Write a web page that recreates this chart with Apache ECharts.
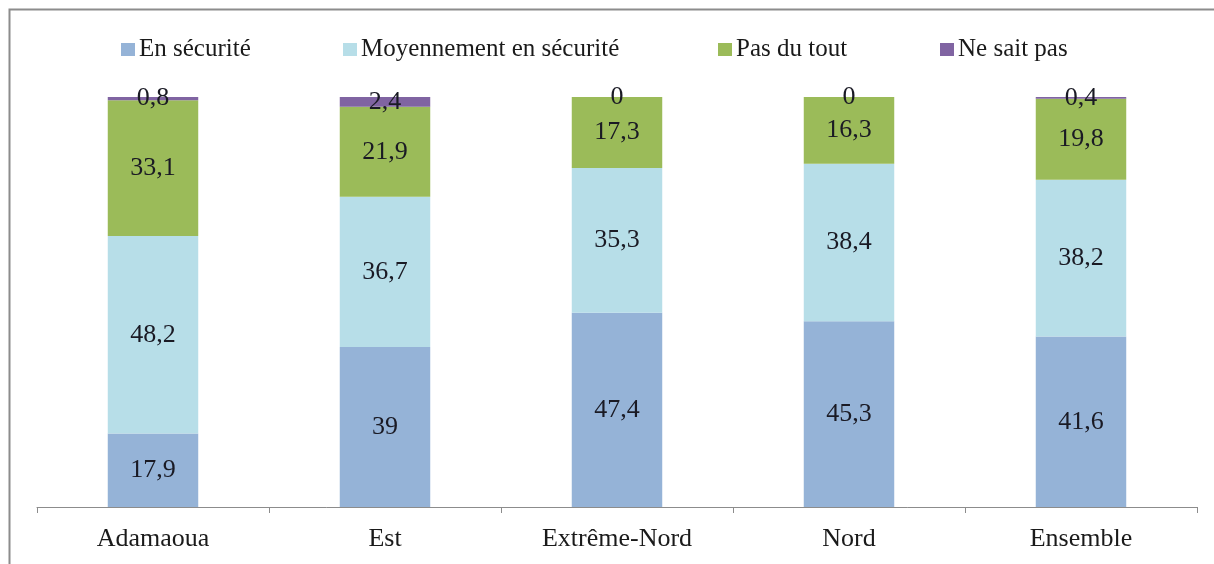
<!DOCTYPE html>
<html>
<head>
<meta charset="utf-8">
<script src="https://cdn.jsdelivr.net/npm/echarts@6/dist/echarts.min.js"></script>
<style>
  html, body { margin: 0; padding: 0; background: #fff; }
  #chart { width: 1214px; height: 564px; }
</style>
</head>
<body>
<div id="chart"></div>
<script>
  // données (%)
  var regions = ['Adamaoua', 'Est', 'Extrême-Nord', 'Nord', 'Ensemble'];
  var enSecurite = [17.9, 39, 47.4, 45.3, 41.6];
  var moyennement = [48.2, 36.7, 35.3, 38.4, 38.2];
  var pasDuTout = [33.1, 21.9, 17.3, 16.3, 19.8];
  var neSaitPas = [0.8, 2.4, 0, 0, 0.4];

  var seriesNames = ['En sécurité', 'Moyennement en sécurité', 'Pas du tout', 'Ne sait pas'];
  var seriesColors = ['#95b3d7', '#b7dee8', '#9bbb59', '#8064a2'];
  var seriesData = [enSecurite, moyennement, pasDuTout, neSaitPas];
  var legendLeft = [121, 343, 718, 940];

  var font = 'Liberation Serif';
  var myChart = echarts.init(document.getElementById('chart'));

  // une légende par série pour caler chaque item
  var legends = seriesNames.map(function (name, i) {
    return {
      data: [name],
      left: legendLeft[i],
      top: 37,
      padding: 0,
      itemWidth: 14,
      itemHeight: 13,
      itemGap: 0,
      icon: 'rect',
      selectedMode: false,
      textStyle: { fontFamily: font, fontSize: 25, color: '#1a1a1a', padding: [0, 0, 0, -1] }
    };
  });

  var series = seriesNames.map(function (name, i) {
    return {
      name: name,
      type: 'bar',
      stack: 'total',
      barWidth: '39%',
      color: seriesColors[i],
      data: seriesData[i],
      label: {
        show: true,
        position: 'inside',
        fontFamily: font,
        fontSize: 26,
        color: '#1a1a24',
        formatter: function (p) {
          return String(p.value).replace('.', ',');
        }
      }
    };
  });

  var options = {
    animation: false,
    backgroundColor: '#fff',
    graphic: [{
      type: 'rect',
      shape: { x: 9.5, y: 9.5, width: 1400, height: 800 },
      style: { fill: 'none', stroke: '#8c8c8c', lineWidth: 2 },
      silent: true
    }],
    legend: legends,
    grid: { left: 37, right: 17, top: 97, bottom: 57 },
    xAxis: {
      type: 'category',
      data: regions,
      axisLine: { lineStyle: { color: '#8c8c8c', width: 1 } },
      axisTick: { show: true, length: 6, lineStyle: { color: '#8c8c8c' } },
      axisLabel: { fontFamily: font, fontSize: 26, color: '#1a1a1a', margin: 19 }
    },
    yAxis: {
      type: 'value',
      min: 0,
      max: 100,
      show: false
    },
    series: series
  };

  myChart.setOption(options);
</script>
</body>
</html>
